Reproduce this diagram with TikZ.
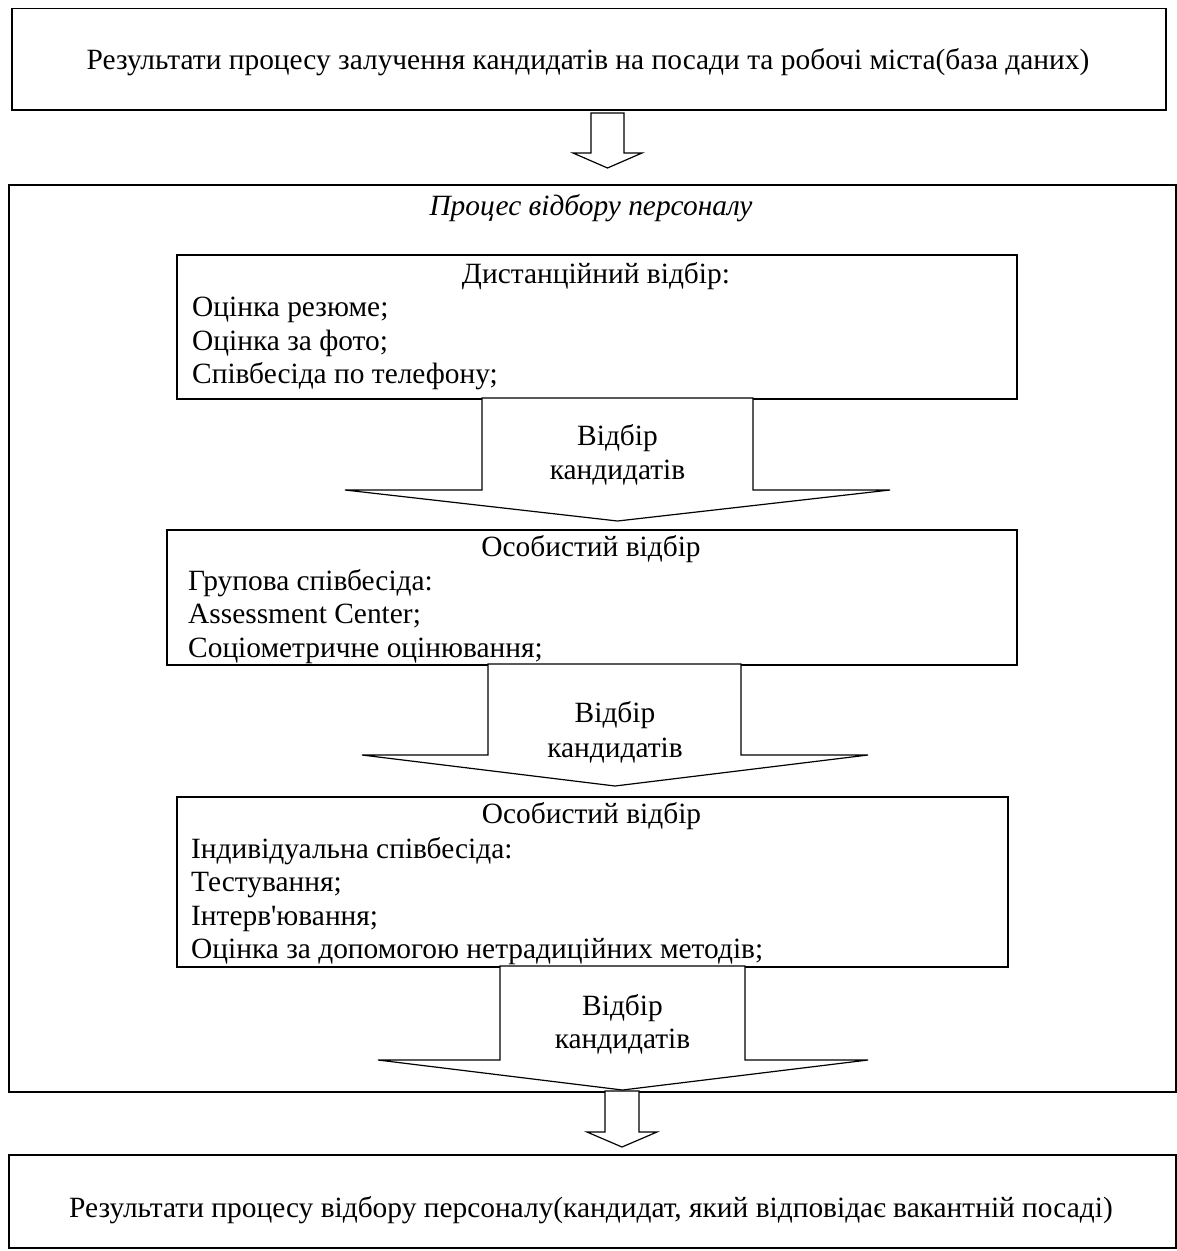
\documentclass[tikz,border=0pt]{standalone}
\usepackage{fontspec}
\setmainfont{Liberation Serif}
\begin{document}
\begin{tikzpicture}[x=1pt,y=-1pt,
  box/.style={draw, line width=1.8pt, inner sep=0, anchor=north west},
  linetxt/.style={inner sep=0, anchor=base west, font=\fontsize{29.4}{33}\selectfont},
  ctxt/.style={inner sep=0, anchor=base, font=\fontsize{29.4}{33}\selectfont},
  blockarrow/.style={draw, fill=white, line width=1.2pt, line join=miter}]
\useasboundingbox (0,0) rectangle (1176,1251);
% boxes
\node[box, minimum width=1154pt, minimum height=101.5pt] (topbox) at (11,7.5) {};
\node[box, minimum width=1167pt, minimum height=907pt] (outer) at (8,184) {};
\node[box, minimum width=840pt, minimum height=144pt] (b1) at (176,254) {};
\node[box, minimum width=850pt, minimum height=135pt] (b2) at (166,529) {};
\node[box, minimum width=831pt, minimum height=170pt] (b3) at (176,796) {};
\node[box, minimum width=1167pt, minimum height=93pt] (botbox) at (8,1154) {};
% block arrows
\draw[blockarrow] (591,113) -- (591,153) -- (573,153) -- (607.5,168) -- (642,153) -- (624,153) -- (624,113) -- cycle;
\draw[blockarrow] (482,398) -- (482,490) -- (345,490) -- (617.5,521) -- (890,490) -- (753,490) -- (753,398) -- cycle;
\draw[blockarrow] (488,664) -- (488,755) -- (362,755) -- (615,786) -- (868,755) -- (741,755) -- (741,664) -- cycle;
\draw[blockarrow] (500,966) -- (500,1060) -- (378,1060) -- (622.5,1090) -- (868,1060) -- (745,1060) -- (745,966) -- cycle;
\draw[blockarrow] (605,1091) -- (605,1132) -- (587,1132) -- (622,1147) -- (657,1132) -- (639,1132) -- (639,1091) -- cycle;
% texts
\node[ctxt] (toptext) at (588,69) {Результати процесу залучення кандидатів на посади та робочі міста(база даних)};
\node[ctxt, font=\fontsize{29.4}{33}\selectfont\itshape] (title) at (591,215) {Процес відбору персоналу};
\node[ctxt] (b1t) at (596,283) {Дистанційний відбір:};
\node[linetxt] (b1a) at (192,316.5) {Оцінка резюме;};
\node[linetxt] (b1b) at (192,350) {Оцінка за фото;};
\node[linetxt] (b1c) at (192,383.5) {Співбесіда по телефону;};
\node[ctxt] (a2a) at (617.5,445) {Відбір};
\node[ctxt] (a2b) at (617.5,479) {кандидатів};
\node[ctxt] (b2t) at (591,556) {Особистий відбір};
\node[linetxt] (b2a) at (188,590) {Групова співбесіда:};
\node[linetxt] (b2b) at (188,623.5) {Assessment Center;};
\node[linetxt] (b2c) at (188,657) {Соціометричне оцінювання;};
\node[ctxt] (a3a) at (615,722) {Відбір};
\node[ctxt] (a3b) at (615,757) {кандидатів};
\node[ctxt] (b3t) at (591.5,823) {Особистий відбір};
\node[linetxt] (b3a) at (191,858) {Індивідуальна співбесіда:};
\node[linetxt] (b3b) at (191,891) {Тестування;};
\node[linetxt] (b3c) at (191,925) {Інтерв\textquotesingle ювання;};
\node[linetxt] (b3d) at (191,958) {Оцінка за допомогою нетрадиційних методів;};
\node[ctxt] (a4a) at (622.5,1015) {Відбір};
\node[ctxt] (a4b) at (622.5,1048) {кандидатів};
\node[ctxt] (bottext) at (591,1217) {Результати процесу відбору персоналу(кандидат, який відповідає вакантній посаді)};
\end{tikzpicture}
\end{document}
